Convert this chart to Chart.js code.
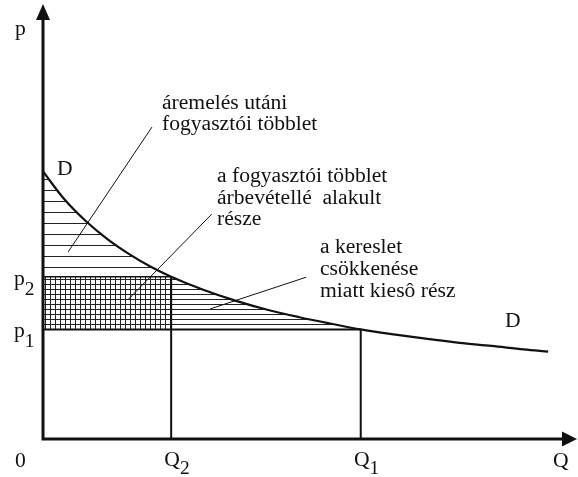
<!DOCTYPE html>
<html>
<head>
<meta charset="utf-8">
<script src="https://cdn.jsdelivr.net/npm/chart.js@4"></script>
<style>
  body { margin: 0; background: #fff; }
</style>
</head>
<body>
<canvas id="chart" width="578" height="477"></canvas>
<script>
// demand curve D (Q, p)
const demandQ = [0, 4, 8, 12, 16, 20, 24, 30, 36, 42, 48, 54, 59.5, 66, 72, 78, 84, 90, 94.6];
const demandP = [61.5, 55.1, 50.1, 46.0, 42.6, 39.7, 37.3, 34.3, 31.8, 29.7, 28.0, 26.5, 25.2, 24.0, 23.0, 22.1, 21.4, 20.6, 20.1];

// marked quantities and prices
const Q2 = 24, Q1 = 59.5;
const P2 = 37.3, P1 = 25.2;

// pointer lines from the notes to the areas
const leaderA = [[20.4, 71.7], [4.7, 43.0]];
const leaderB = [[31.6, 51.7], [15.9, 32.0]];
const leaderC = [[49.3, 37.2], [31.3, 29.9]];

// texts
const noteA = ['áremelés utáni', 'fogyasztói többlet'];
const noteB = ['a fogyasztói többlet', 'árbevétellé  alakult', 'része'];
const noteC = ['a kereslet', 'csökkenése', 'miatt kiesô rész'];
const xTicks = [{ v: Q2, main: 'Q', sub: '2' }, { v: Q1, main: 'Q', sub: '1' }];
const yTicks = [{ v: P2, main: 'p', sub: '2' }, { v: P1, main: 'p', sub: '1' }];

const FONT = '"Times New Roman", "Liberation Serif", "DejaVu Serif", serif';

const pts = (xs, ys) => xs.map((x, i) => ({ x, y: ys[i] }));
const seg = pairs => pairs.map(p => ({ x: p[0], y: p[1] }));
const iQ2 = demandQ.indexOf(Q2);
const iQ1 = demandQ.indexOf(Q1);

function hatch(w, h, row, col) {
  const c = document.createElement('canvas');
  c.width = w; c.height = h;
  const g = c.getContext('2d');
  g.fillStyle = '#222';
  if (row !== null) g.fillRect(0, row, w, 1);
  if (col !== null) g.fillRect(col, 0, 1, h);
  return g.createPattern(c, 'repeat');
}

const wideLines = hatch(11, 11, 3, null);
const fineLines = hatch(5, 5, 4, null);
const grid = hatch(5, 5, 4, 0);

const plain = (data, width) => ({
  data, borderColor: '#111', borderWidth: width, pointRadius: 0, fill: false, order: 1
});

function text(ctx, s, x, y, size, align) {
  ctx.save();
  ctx.font = size + 'px ' + FONT;
  ctx.translate(x, y);
  ctx.scale(1.08, 1);
  ctx.textAlign = align || 'left';
  ctx.textBaseline = 'alphabetic';
  ctx.fillStyle = '#111';
  ctx.fillText(s, 0, 0);
  const w = ctx.measureText(s).width * 1.08;
  ctx.restore();
  return w;
}

const frame = {
  id: 'frame',
  afterDatasetsDraw(chart) {
    const { ctx, scales: { x, y } } = chart;
    const x0 = x.getPixelForValue(0), xEnd = x.getPixelForValue(x.max);
    const y0 = y.getPixelForValue(0), yEnd = y.getPixelForValue(y.max);
    ctx.save();
    ctx.strokeStyle = '#111';
    ctx.fillStyle = '#111';
    ctx.lineWidth = 3;
    ctx.beginPath();
    ctx.moveTo(x0, y0 + 1.5);
    ctx.lineTo(x0, yEnd + 14);
    ctx.moveTo(x0 - 1.5, y0);
    ctx.lineTo(xEnd - 13, y0);
    ctx.stroke();
    ctx.beginPath();
    ctx.moveTo(xEnd, y0);
    ctx.lineTo(xEnd - 15, y0 - 7.5);
    ctx.lineTo(xEnd - 15, y0 + 7.5);
    ctx.closePath();
    ctx.fill();
    ctx.beginPath();
    ctx.moveTo(x0, yEnd);
    ctx.lineTo(x0 - 7, yEnd + 16);
    ctx.lineTo(x0 + 7, yEnd + 16);
    ctx.closePath();
    ctx.fill();
    ctx.restore();

    // axis labels
    text(ctx, '0', 15, y0 + 28, 20);
    text(ctx, 'Q', xEnd - 24, y0 + 28, 20);
    text(ctx, 'p', 15, yEnd + 31, 20);
    xTicks.forEach(t => {
      const px = x.getPixelForValue(t.v);
      const w = text(ctx, t.main, px + 1, y0 + 27, 20, 'center');
      text(ctx, t.sub, px + 1 + w / 2, y0 + 35, 18);
    });
    yTicks.forEach(t => {
      const py = y.getPixelForValue(t.v);
      const w = text(ctx, t.main, 14, py + 8, 20);
      text(ctx, t.sub, 14 + w, py + 18, 18);
    });

    // curve names and notes
    text(ctx, 'D', 57, 175, 20);
    text(ctx, 'D', 505, 327, 20);
    noteA.forEach((s, i) => text(ctx, s, 162, 109 + i * 21, 20));
    noteB.forEach((s, i) => text(ctx, s, 217, 182 + i * 21.5, 20));
    noteC.forEach((s, i) => text(ctx, s, 320, 253 + i * 22, 20));
  }
};

new Chart(document.getElementById('chart'), {
  type: 'line',
  data: {
    datasets: [
      {
        data: pts(demandQ, demandP), borderColor: '#111', borderWidth: 2.2,
        cubicInterpolationMode: 'monotone', pointRadius: 0, fill: false, order: 0
      },
      {
        data: pts(demandQ.slice(0, iQ2 + 1), demandP.slice(0, iQ2 + 1)),
        cubicInterpolationMode: 'monotone', borderWidth: 0, borderColor: 'transparent',
        pointRadius: 0, fill: { value: P2 }, backgroundColor: wideLines, order: 5
      },
      {
        data: pts(demandQ.slice(iQ2, iQ1 + 1), demandP.slice(iQ2, iQ1 + 1)),
        cubicInterpolationMode: 'monotone', borderWidth: 0, borderColor: 'transparent',
        pointRadius: 0, fill: { value: P1 }, backgroundColor: fineLines, order: 5
      },
      {
        data: [{ x: 0, y: P2 }, { x: Q2, y: P2 }], borderWidth: 0, borderColor: 'transparent',
        pointRadius: 0, fill: { value: P1 }, backgroundColor: grid, order: 5
      },
      plain([{ x: 0, y: P2 }, { x: Q2, y: P2 }], 1.5),
      plain([{ x: 0, y: P1 }, { x: Q1, y: P1 }], 2),
      plain([{ x: Q2, y: P2 }, { x: Q2, y: 0 }], 2),
      plain([{ x: Q1, y: P1 }, { x: Q1, y: 0 }], 2),
      plain(seg(leaderA), 1),
      plain(seg(leaderB), 1),
      plain(seg(leaderC), 1)
    ]
  },
  options: {
    responsive: false,
    animation: false,
    layout: { padding: { left: 43, right: 1, top: 4, bottom: 38 } },
    scales: {
      x: { type: 'linear', min: 0, max: 100, display: false },
      y: { type: 'linear', min: 0, max: 100, display: false }
    },
    plugins: { legend: { display: false }, tooltip: { enabled: false } }
  },
  plugins: [frame]
});
</script>
</body>
</html>
